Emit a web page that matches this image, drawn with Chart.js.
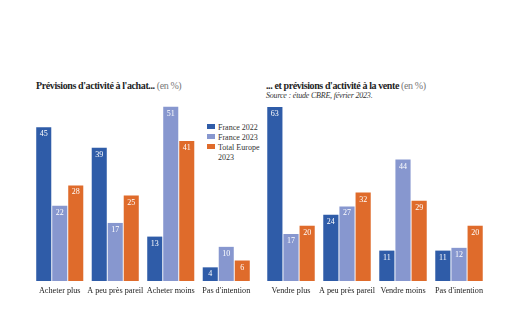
<!DOCTYPE html>
<html>
<head>
<meta charset="utf-8">
<script src="https://cdn.jsdelivr.net/npm/chart.js@4"></script>
<style>
  body { margin:0; background:#fff; width:520px; height:330px; position:relative; overflow:hidden; font-family:"Liberation Serif", serif; color:#222; }
  canvas { position:absolute; top:0; }
  .titre { position:absolute; top:80px; font-size:10px; letter-spacing:-0.4px; font-weight:bold; white-space:nowrap; color:#1e1e1e; }
  .titre span { font-weight:normal; color:#777; }
  .source { position:absolute; left:266px; top:91px; font-size:8px; letter-spacing:-0.2px; font-style:italic; color:#333; }
  .leg { position:absolute; left:207px; font-size:8px; color:#333; line-height:10px; }
  .leg i { display:inline-block; width:8px; height:5px; margin-right:3px; vertical-align:1px; }
</style>
</head>
<body>
<div class="titre" style="left:36px">Prévisions d'activité à l'achat... <span>(en %)</span></div>
<div class="titre" style="left:266px">... et prévisions d'activité à la vente <span>(en %)</span></div>
<div class="source">Source : étude CBRE, février 2023.</div>
<div class="leg" style="top:123px"><i style="background:#2f5ca8"></i>France 2022</div>
<div class="leg" style="top:133px"><i style="background:#8797cf"></i>France 2023</div>
<div class="leg" style="top:143px"><i style="background:#df6b2b"></i>Total Europe<br><span style="padding-left:11px">2023</span></div>
<canvas id="achat" width="260" height="330" style="left:0"></canvas>
<canvas id="vente" width="260" height="330" style="left:260px"></canvas>
<script>
const achatLabels = ["Acheter plus", "A peu près pareil", "Acheter moins", "Pas d'intention"];
const achatFrance2022 = [45, 39, 13, 4];
const achatFrance2023 = [22, 17, 51, 10];
const achatEurope2023 = [28, 25, 41, 6];

const venteLabels = ["Vendre plus", "A peu près pareil", "Vendre moins", "Pas d'intention"];
const venteFrance2022 = [63, 24, 11, 11];
const venteFrance2023 = [17, 27, 44, 12];
const venteEurope2023 = [20, 32, 29, 20];

const couleurs = ["#2f5ca8", "#8797cf", "#df6b2b"];

// valeurs en blanc dans le haut des barres
const valeursPlugin = {
  id: "valeurs",
  afterDatasetsDraw(chart) {
    const ctx = chart.ctx;
    ctx.save();
    ctx.fillStyle = "#fff";
    ctx.font = "8px 'Liberation Serif'";
    ctx.textAlign = "center";
    ctx.textBaseline = "top";
    chart.data.datasets.forEach((ds, i) => {
      chart.getDatasetMeta(i).data.forEach((bar, j) => {
        ctx.fillText(ds.data[j], bar.x, bar.y + 3);
      });
    });
    ctx.restore();
  }
};

function faireGraph(id, labels, d1, d2, d3, max, pad) {
  return new Chart(document.getElementById(id), {
    type: "bar",
    data: {
      labels: labels,
      datasets: [
        { label: "France 2022", data: d1, backgroundColor: couleurs[0] },
        { label: "France 2023", data: d2, backgroundColor: couleurs[1] },
        { label: "Total Europe 2023", data: d3, backgroundColor: couleurs[2] }
      ]
    },
    options: {
      responsive: false,
      animation: false,
      categoryPercentage: 0.865,
      barPercentage: 0.94,
      layout: { padding: pad },
      plugins: { legend: { display: false }, tooltip: { enabled: false } },
      scales: {
        x: {
          grid: { display: false, drawTicks: false },
          border: { display: false },
          ticks: { color: "#222", font: { family: "Liberation Serif", size: 8.2 }, padding: 5, maxRotation: 0, autoSkip: false },
          afterFit(scale) { scale.height = 20; }
        },
        y: { display: false, min: 0, max: max }
      }
    },
    plugins: [valeursPlugin]
  });
}

faireGraph("achat", achatLabels, achatFrance2022, achatFrance2023, achatEurope2023, 53, { left: 32, right: 6, top: 100, bottom: 29 });
faireGraph("vente", venteLabels, venteFrance2022, venteFrance2023, venteEurope2023, 65.5, { left: 3, right: 33, top: 100, bottom: 29 });
</script>
</body>
</html>
